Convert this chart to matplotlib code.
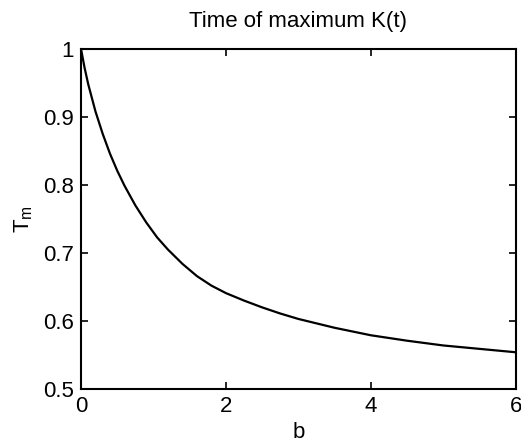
import matplotlib
matplotlib.use("Agg")
import matplotlib.pyplot as plt

# values
b_vals = [0.0, 0.05, 0.1, 0.2, 0.3, 0.4, 0.5, 0.6, 0.75, 0.9, 1.05, 1.2, 1.4, 1.6, 1.8,
          2.0, 2.25, 2.5, 2.75, 3.0, 3.5, 4.0, 4.5, 5.0, 5.5, 6.0]
tm_vals = [1.0, 0.972, 0.948, 0.908, 0.875, 0.846, 0.821, 0.799, 0.770, 0.745, 0.723, 0.705,
           0.684, 0.666, 0.652, 0.641, 0.630, 0.620, 0.611, 0.603, 0.590, 0.579, 0.571,
           0.564, 0.559, 0.554]
x_ticks = [0, 2, 4, 6]
y_ticks = [0.5, 0.6, 0.7, 0.8, 0.9, 1.0]
y_tick_labels = ["0.5", "0.6", "0.7", "0.8", "0.9", "1"]

plt.rcParams.update({
    'font.family': ['Liberation Sans', 'DejaVu Sans'],
    'font.size': 16,
})

fig = plt.figure(figsize=(5.21, 4.44), dpi=100)
ax = fig.add_axes([0.1555, 0.1239, 0.8345, 0.7657])

ax.plot(b_vals, tm_vals, color='black', linewidth=1.6)

ax.set_xlim(0, 6)
ax.set_ylim(0.5, 1.0)
ax.set_xticks(x_ticks)
ax.set_yticks(y_ticks)
ax.set_yticklabels(y_tick_labels)
ax.tick_params(direction='in', top=True, right=True, length=5, width=1.2,
               labelsize=16, pad=5)
for s in ax.spines.values():
    s.set_linewidth(1.5)

ax.set_title("Time of maximum K(t)", fontsize=16, pad=16)
ax.set_xlabel("b", fontsize=16, labelpad=4)
ax.set_ylabel(r"T$_\mathregular{m}$", fontsize=16, labelpad=6)

fig.savefig("out.png", dpi=100)
